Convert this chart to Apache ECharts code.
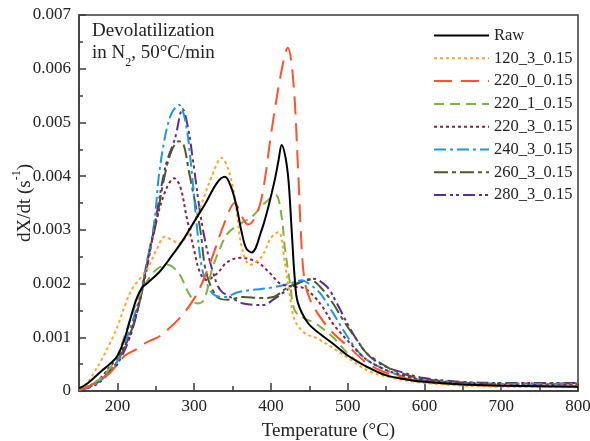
<!DOCTYPE html>
<html>
<head>
<meta charset="utf-8">
<script src="https://cdn.jsdelivr.net/npm/echarts@6/dist/echarts.min.js"></script>
<style>html,body{margin:0;padding:0;background:#fff}#c{width:590px;height:441px}</style>
</head>
<body>
<div id="c"></div>
<script>
// values in units of 1e-3 s^-1
const seriesNames = ['Raw','120_3_0.15','220_0_0.15','220_1_0.15','220_3_0.15','240_3_0.15','260_3_0.15','280_3_0.15'];
const xTickLabels = [200,300,400,500,600,700,800];
const xMinorTicks = [250,350,450,550,650,750];
const yTickLabels = ['0','0.001','0.002','0.003','0.004','0.005','0.006','0.007'];

const tRaw = [150,160,170,180,190,200,210,218,225,232,240,255,270,285,300,315,330,340,348,355,362,368,375,388,397,405,410,414,419,423,427,431,435,448,465,481,500,525,550,575,600,650,700,750,800];
const vRaw = [0.05,0.13,0.25,0.38,0.5,0.65,1.0,1.4,1.72,1.92,2.02,2.22,2.5,2.8,3.15,3.5,3.88,3.99,3.8,3.45,2.95,2.65,2.58,3.0,3.45,3.93,4.3,4.58,4.35,3.9,3.0,2.1,1.65,1.27,1.05,0.88,0.66,0.45,0.29,0.22,0.17,0.12,0.1,0.09,0.08];

const t120 = [150,160,170,180,190,200,210,220,230,240,250,262,270,280,295,310,323,336,345,353,362,373,388,400,410,418,425,431,444,460,481,500,525,550,575,600,650,700,750,800];
const v120 = [0.05,0.14,0.35,0.6,0.88,1.2,1.6,1.92,2.1,2.3,2.6,2.87,2.82,2.75,3.0,3.5,4.0,4.34,4.1,3.6,2.68,2.35,2.5,2.85,2.96,2.4,1.75,1.32,1.08,0.98,0.8,0.62,0.39,0.27,0.2,0.15,0.1,0.08,0.08,0.07];

const t220_0 = [150,160,170,180,190,200,210,225,235,245,255,270,285,300,310,325,340,353,362,370,378,388,401,414,422,429,435,440,444,451,464,481,503,525,550,575,600,650,700,750,800];
const v220_0 = [0.02,0.07,0.14,0.23,0.33,0.5,0.66,0.78,0.88,0.95,1.02,1.2,1.42,1.72,2.0,2.55,3.15,3.5,3.25,3.1,3.2,3.6,4.86,5.98,6.39,5.8,4.24,2.68,2.05,1.7,1.38,1.08,0.8,0.52,0.34,0.24,0.17,0.12,0.1,0.09,0.09];

const t220_1 = [150,160,170,180,190,200,206,215,225,237,250,265,280,293,304,313,323,335,344,362,375,392,406,414,418,425,431,444,455,464,481,503,525,550,575,600,650,700,750,800];
const v220_1 = [0.03,0.08,0.15,0.26,0.42,0.65,0.88,1.26,1.65,2.0,2.25,2.35,2.19,1.82,1.63,1.7,2.25,2.7,2.94,3.13,3.24,3.5,3.65,3.24,2.68,2.0,1.5,1.35,1.28,1.2,1.0,0.66,0.45,0.3,0.22,0.16,0.12,0.1,0.1,0.1];

const t220_3 = [150,160,170,180,190,200,215,228,237,250,263,274,282,290,299,308,316,330,343,360,382,399,412,429,442,455,468,481,503,525,550,570,600,650,700,750,800];
const v220_3 = [0.03,0.08,0.15,0.27,0.45,0.62,1.0,1.63,2.25,3.13,3.74,3.96,3.8,3.25,2.68,2.19,2.07,2.19,2.4,2.48,2.4,2.19,2.0,1.94,1.92,1.78,1.55,1.25,0.89,0.58,0.39,0.3,0.2,0.15,0.12,0.11,0.11];

const t240 = [150,160,170,180,190,200,215,228,237,248,254,263,271,280,289,297,304,310,318,327,340,357,375,399,425,440,451,464,481,494,512,525,550,570,600,650,700,750,800];
const v240 = [0.02,0.06,0.12,0.22,0.38,0.55,1.1,1.7,2.3,3.13,4.0,4.8,5.18,5.33,4.99,4.06,3.0,2.3,1.95,1.78,1.75,1.84,1.88,1.92,2.0,2.06,1.98,1.82,1.45,1.14,0.76,0.58,0.39,0.28,0.2,0.15,0.13,0.13,0.13];

const t260 = [150,160,170,180,190,200,215,228,240,250,260,270,280,286,293,300,308,316,330,343,364,386,403,421,438,451,464,481,494,512,525,551,568,600,650,700,750,800];
const v260 = [0.02,0.06,0.12,0.22,0.38,0.55,1.0,1.6,2.5,3.1,3.9,4.45,4.65,4.6,4.1,3.6,3.0,2.19,1.75,1.7,1.75,1.73,1.75,1.92,2.03,2.07,1.94,1.63,1.32,0.95,0.7,0.45,0.34,0.22,0.16,0.14,0.14,0.14];

const t280 = [150,160,170,180,190,200,215,228,240,250,263,275,285,292,299,308,316,325,334,347,364,390,403,421,442,455,473,486,499,512,529,550,568,600,650,700,750,800];
const v280 = [0.02,0.05,0.1,0.2,0.35,0.5,0.95,1.6,2.4,3.2,4.2,4.7,5.25,4.9,4.24,3.3,2.68,2.19,1.88,1.75,1.63,1.6,1.7,1.88,2.05,2.09,1.94,1.63,1.27,0.95,0.64,0.45,0.36,0.24,0.17,0.15,0.15,0.15];

const colors = ['#000000','#FFA526','#FF5226','#7CB342','#8E1F45','#1E98DC','#4D5A28','#5B2D8E'];
const dashes = ['solid',[3,3],[18,9],[10,6],[3,3],[12,4,3,4],[14,4,4,4],[12,4,3,3,3,4]];
const tArrs = [tRaw,t120,t220_0,t220_1,t220_3,t240,t260,t280];
const vArrs = [vRaw,v120,v220_0,v220_1,v220_3,v240,v260,v280];

const FONT = 'Liberation Serif';
const series = [];
for (let i = seriesNames.length - 1; i >= 0; i--) {
  series.push({
    name: seriesNames[i],
    type: 'line',
    xAxisIndex: 0, yAxisIndex: 0,
    data: tArrs[i].map((t, k) => [t, vArrs[i][k]]),
    showSymbol: false, symbol: 'none',
    smooth: 0.35,
    lineStyle: { color: colors[i], width: 2, type: dashes[i] },
    itemStyle: { color: colors[i] },
    z: 10 + (seriesNames.length - i)
  });
}

const chart = echarts.init(document.getElementById('c'), null, { renderer: 'canvas' });
chart.setOption({
  animation: false,
  backgroundColor: '#fff',
  grid: { left: 79, right: 12, top: 15, bottom: 50, show: true, borderColor: '#3a3a3a', borderWidth: 1.5, backgroundColor: 'transparent', outerBoundsMode: 'none', containLabel: false },
  xAxis: [{
    type: 'value', min: 150, max: 800,
    name: 'Temperature (°C)', nameLocation: 'middle', nameGap: 31, nameMoveOverlap: false,
    nameTextStyle: { fontFamily: FONT, fontSize: 19, color: '#222' },
    axisLine: { show: true, lineStyle: { color: '#3a3a3a', width: 1.5 } },
    axisTick: { show: true, inside: true, length: 8, customValues: xTickLabels, lineStyle: { color: '#3a3a3a', width: 1.5 } },
    axisLabel: { show: true, customValues: xTickLabels, margin: 7, fontFamily: FONT, fontSize: 17, color: '#222' },
    splitLine: { show: false }
  }, {
    type: 'value', min: 150, max: 800, position: 'bottom', gridIndex: 0,
    axisLine: { show: false },
    axisTick: { show: true, inside: true, length: 5, customValues: xMinorTicks, lineStyle: { color: '#3a3a3a', width: 1.5 } },
    axisLabel: { show: false },
    splitLine: { show: false }
  }],
  yAxis: {
    type: 'value', min: 0, max: 7, interval: 1,
    name: '{a|dX/dt (s}{s|-1}{a|)}', nameLocation: 'middle', nameGap: 44, nameRotate: 90, nameMoveOverlap: false,
    nameTextStyle: { rich: {
      a: { fontFamily: FONT, fontSize: 19, color: '#222', lineHeight: 24, verticalAlign: 'bottom' },
      s: { fontFamily: FONT, fontSize: 12, color: '#222', lineHeight: 24, verticalAlign: 'top' }
    } },
    axisLine: { show: true, lineStyle: { color: '#3a3a3a', width: 1.5 } },
    axisTick: { show: true, inside: true, length: 7, lineStyle: { color: '#3a3a3a', width: 1.5 } },
    minorTick: { show: true, splitNumber: 2, length: 4, lineStyle: { color: '#3a3a3a', width: 1.5 } },
    axisLabel: { margin: 8, fontFamily: FONT, fontSize: 17, color: '#222', formatter: (v) => yTickLabels[Math.round(v)] },
    splitLine: { show: false },
    minorSplitLine: { show: false }
  },
  legend: {
    data: seriesNames,
    orient: 'vertical', left: 428, top: 22,
    itemWidth: 55, itemHeight: 14, itemGap: 5.8,
    itemStyle: { opacity: 0 },
    textStyle: { fontFamily: FONT, fontSize: 16.5, color: '#222' }
  },
  graphic: [{
    type: 'text', left: 92, top: 22, z: 50,
    style: {
      text: '{a|Devolatilization}\n{a|in N}{b|2}{a|, 50°C/min}',
      rich: {
        a: { fontFamily: FONT, fontSize: 19, fill: '#222', lineHeight: 22, verticalAlign: 'top' },
        b: { fontFamily: FONT, fontSize: 12, fill: '#222', lineHeight: 22, verticalAlign: 'bottom', padding: [0, 0, -3, 0] }
      }
    }
  }],
  series: series
});
</script>
</body>
</html>
